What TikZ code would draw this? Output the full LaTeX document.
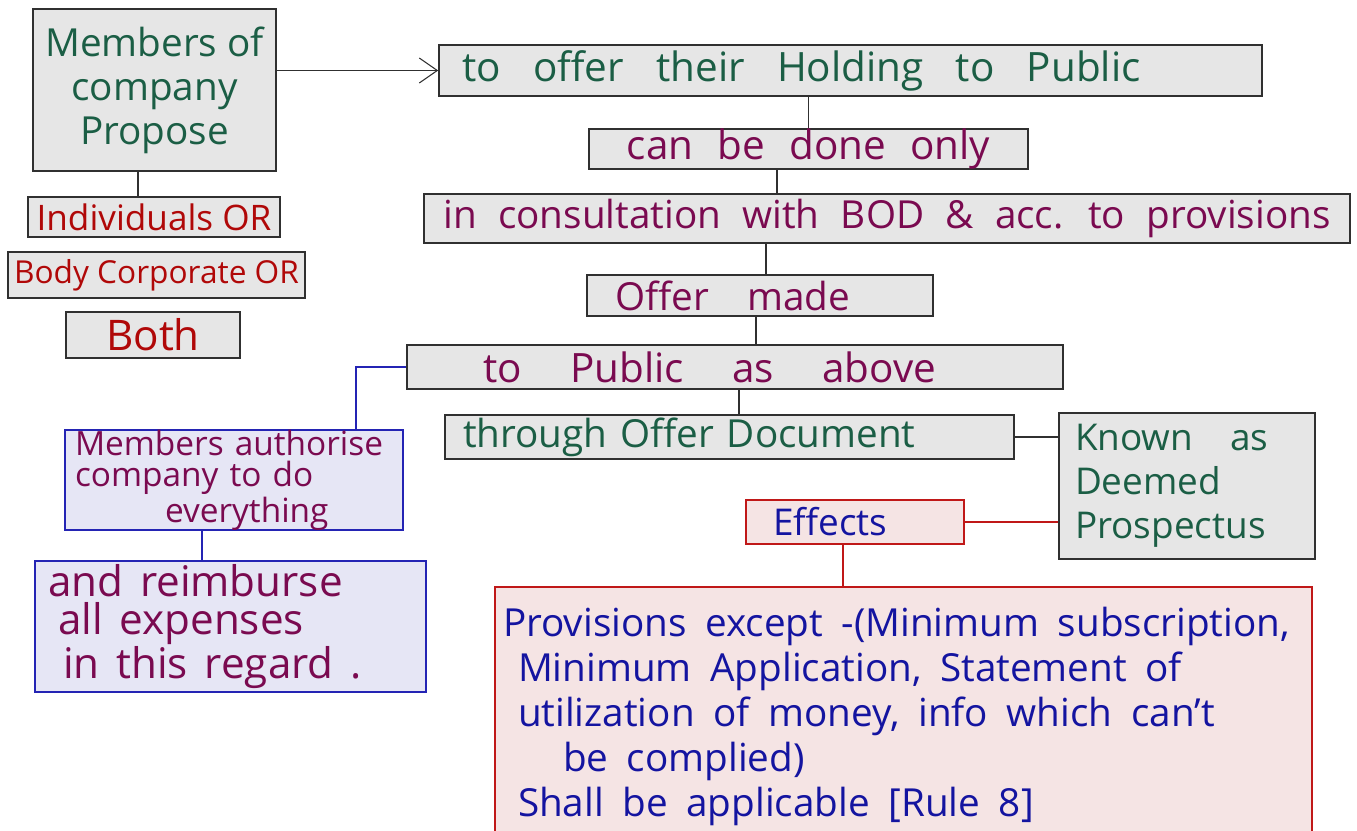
\documentclass[tikz,border=0pt]{standalone}
\usepackage{fontspec}
\usepackage{tikz}
\usetikzlibrary{arrows.meta}
\setmainfont{Open Sans}
\definecolor{inkgreen}{HTML}{1B5E45}
\definecolor{inkplum}{HTML}{7A0A50}
\definecolor{inkred}{HTML}{B00808}
\definecolor{inkblue}{HTML}{1414A0}
\definecolor{boxgrey}{HTML}{E6E6E6}
\definecolor{boxedge}{HTML}{303030}
\definecolor{pinkfill}{HTML}{F5E4E4}
\definecolor{pinkedge}{HTML}{C01818}
\definecolor{lilacfill}{HTML}{E6E6F5}
\definecolor{lilacedge}{HTML}{2424B4}
\protected\def\widespace#1{\spaceskip=#1\relax}
\tikzset{
  greybox/.style={draw=boxedge, fill=boxgrey, line width=0.9pt, inner sep=0pt,
                  font=\fontsize{21}{25}\selectfont},
  pinkbox/.style={greybox, draw=pinkedge, fill=pinkfill, text=inkblue},
  lilacbox/.style={greybox, draw=lilacedge, fill=lilacfill, text=inkplum},
  wordgap/.style={execute at begin node={\widespace{#1}}},
  link/.style={draw=boxedge, line width=0.6pt},
}
\begin{document}
\begin{tikzpicture}
    \path[use as bounding box, clip] (0,0) rectangle (27.14,-16.6);
    % left column
    \node[greybox, minimum width=4.86cm, minimum height=3.24cm, align=center, text=inkgreen,
          font=\fontsize{22}{25}\selectfont] (members) at (3.09,-1.80) {Members of\\company\\Propose};
    \node[greybox, minimum width=5.04cm, minimum height=0.80cm, text=inkred,
          font=\fontsize{20}{22}\selectfont] (indiv) at (3.08,-4.34) {Individuals OR};
    \node[greybox, minimum width=5.94cm, minimum height=0.92cm, text=inkred,
          font=\fontsize{18}{22}\selectfont] (body) at (3.13,-5.50) {Body Corporate OR};
    \node[greybox, minimum width=3.48cm, minimum height=0.92cm, text=inkred,
          font=\fontsize{24}{26}\selectfont] (both) at (3.06,-6.70) {Both};
    % main chain
    \node[greybox, text width=15.54cm, inner xsep=0.46cm, align=left, minimum height=1.02cm,
          text=inkgreen, font=\fontsize{23}{26}\selectfont, wordgap=0.8em]
          (offer) at (17.01,-1.41) {to offer their Holding to Public};
    \node[greybox, minimum width=8.78cm, minimum height=0.76cm, text=inkplum,
          font=\fontsize{23}{26}\selectfont, wordgap=0.6em] (done) at (16.17,-2.98) {can be done only};
    \node[greybox, minimum width=18.52cm, minimum height=0.98cm, text=inkplum,
          font=\fontsize{22}{26}\selectfont, wordgap=0.55em] (consult) at (17.74,-4.37)
          {in consultation with BOD \& acc. to provisions};
    \node[greybox, text width=5.80cm, inner xsep=0.56cm, align=left, minimum height=0.82cm,
          text=inkplum, font=\fontsize{22}{26}\selectfont, wordgap=1em]
          (made) at (15.20,-5.91) {Offer made};
    \node[greybox, text width=10.08cm, inner xsep=1.52cm, align=left, minimum height=0.88cm,
          text=inkplum, font=\fontsize{23}{26}\selectfont, wordgap=1.2em]
          (public) at (14.70,-7.34) {to Public as above};
    \node[greybox, text width=10.66cm, inner xsep=0.36cm, align=left, minimum height=0.88cm,
          text=inkgreen, font=\fontsize{22}{26}\selectfont]
          (through) at (14.59,-8.74) {through Offer Document};
    \node[greybox, text width=4.48cm, inner xsep=0.32cm, align=left, minimum height=2.92cm,
          text=inkgreen] (known) at (23.74,-9.72) {Known\quad as\\ Deemed\\Prospectus};
    \node[pinkbox, text width=3.28cm, inner xsep=0.54cm, align=left, minimum height=0.88cm,
          font=\fontsize{21}{22}\selectfont] (effects) at (17.10,-10.44) {Effects};
    \node[pinkbox, text width=16.02cm, inner xsep=0.16cm, align=left, minimum height=5.18cm,
          font=\fontsize{22}{25.5}\selectfont, wordgap=0.48em] (prov) at (18.07,-14.33)
          {Provisions except -(Minimum subscription,\\
           \hspace*{0.3cm}Minimum Application, Statement of\\
           \hspace*{0.3cm}utilization of money, info which can't\\
           \hspace*{1.2cm}be complied)\\
           \hspace*{0.3cm}Shall be applicable [Rule 8]};
    % blue side
    \node[lilacbox, text width=6.36cm, inner xsep=0.20cm, align=left, minimum height=1.88cm,
          font=\fontsize{19}{18}\selectfont] (auth) at (4.68,-9.60)
          {Members authorise\\company to do\\\hspace*{1.8cm}everything};
    \node[lilacbox, text width=7.30cm, inner xsep=0.26cm, align=left, minimum height=2.62cm,
          font=\fontsize{24}{22}\selectfont, wordgap=0.4em] (reimb) at (4.61,-12.53)
          {and reimburse\\\hspace*{0.2cm}all expenses\\\hspace*{0.3cm}in this regard .};
    % connectors
    \draw[link, -{Straight Barb[length=3.6mm, width=5mm]}] (members.east |- offer.west) -- (offer.west);
    \draw[link] (2.76,0 |- members.south) -- (2.76,0 |- indiv.north);
    \draw[link] (done.north |- offer.south) -- (done.north);
    \draw[link] (15.54,0 |- done.south) -- (15.54,0 |- consult.north);
    \draw[link] (15.32,0 |- consult.south) -- (15.32,0 |- made.north);
    \draw[link] (15.12,0 |- made.south) -- (15.12,0 |- public.north);
    \draw[link] (14.78,0 |- public.south) -- (14.78,0 |- through.north);
    \draw[link, line width=0.9pt] (through.east) -- (through.east -| known.west);
    \draw[link, draw=pinkedge] (effects.east) -- (effects.east -| known.west);
    \draw[link, draw=pinkedge] (16.86,0 |- effects.south) -- (16.86,0 |- prov.north);
    \draw[link, draw=lilacedge] (public.west) -| (7.12,0 |- auth.north);
    \draw[link, draw=lilacedge] (4.04,0 |- auth.south) -- (4.04,0 |- reimb.north);
\end{tikzpicture}
\end{document}
